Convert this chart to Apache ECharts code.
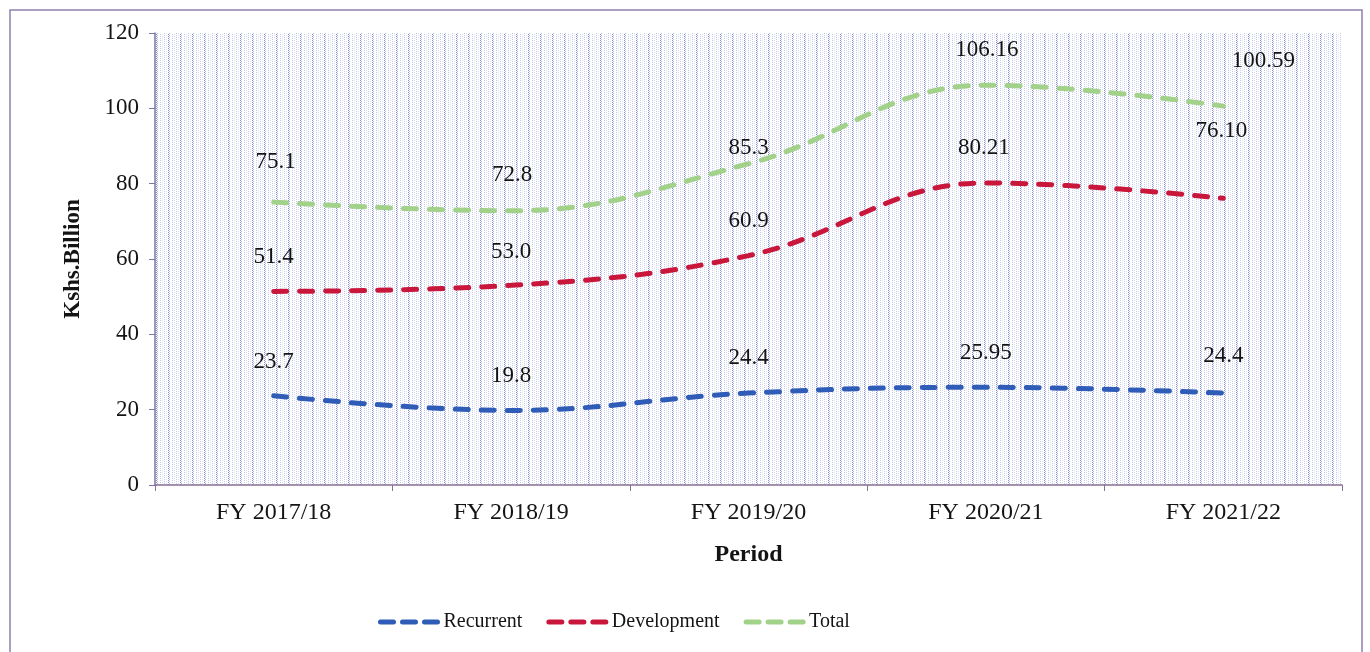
<!DOCTYPE html>
<html>
<head>
<meta charset="utf-8">
<title>Recurrent and Development Expenditure</title>
<script src="https://cdn.jsdelivr.net/npm/echarts@6/dist/echarts.min.js"></script>
<style>
    html, body {
        margin: 0;
        padding: 0;
        background: #fff;
    }
    #chart {
        width: 1370px;
        height: 652px;
    }
</style>
</head>
<body>
<div id="chart"></div>
<script>
    // data
    var periods = ['FY 2017/18', 'FY 2018/19', 'FY 2019/20', 'FY 2020/21', 'FY 2021/22'];
    var recurrent = [23.7, 19.8, 24.4, 25.95, 24.4];
    var development = [51.4, 53.0, 60.9, 80.21, 76.10];
    var total = [75.1, 72.8, 85.3, 106.16, 100.59];
    // how the labels read in the source (decimals kept as printed)
    var recurrentText = ['23.7', '19.8', '24.4', '25.95', '24.4'];
    var developmentText = ['51.4', '53.0', '60.9', '80.21', '76.10'];
    var totalText = ['75.1', '72.8', '85.3', '106.16', '100.59'];

    var serif = "'Liberation Serif', 'Times New Roman', serif";

    // label nudges (style only), [dx, dy] per point
    var recurrentNudge = [[0, -17], [0, -17], [0, -18], [0, -17], [0, -20]];
    var developmentNudge = [[0, -17], [0, -16], [0, -18], [-2, -18], [-2, -50]];
    var totalNudge = [[2, -23], [1, -19], [0, 1], [1, -18], [40, -28]];

    // dotted blue hatch like the excel pattern fill
    function makePattern() {
        var c = document.createElement('canvas');
        c.width = 12;
        c.height = 4;
        var ctx = c.getContext('2d');
        ctx.fillStyle = '#ffffff';
        ctx.fillRect(0, 0, 12, 4);
        for (var y = 0; y < 4; y += 2) {
            ctx.fillStyle = '#8390d3';
            ctx.fillRect(0, y, 1, 1);
            ctx.fillStyle = '#b3bae4';
            ctx.fillRect(1, y + 1, 1, 1);
            ctx.fillStyle = '#c3c9ea';
            ctx.fillRect(4, y, 1, 1);
            ctx.fillRect(8, y + 1, 1, 1);
            ctx.fillStyle = '#dfe2f4';
            ctx.fillRect(6, y, 1, 1);
            ctx.fillRect(10, y + 1, 1, 1);
        }
        return c;
    }

    function buildData(values, texts, nudge) {
        var out = [];
        for (var i = 0; i < values.length; i++) {
            out.push({
                value: values[i],
                label: {
                    offset: nudge[i],
                    formatter: texts[i]
                }
            });
        }
        return out;
    }

    function lineSeries(name, color, values, texts, nudge) {
        return {
            name: name,
            type: 'line',
            smooth: 0.4,
            symbol: 'circle',
            symbolSize: 1,
            itemStyle: {
                color: color
            },
            lineStyle: {
                color: color,
                width: 5,
                type: [13, 13],
                cap: 'round'
            },
            label: {
                show: true,
                position: 'top',
                distance: 5,
                color: '#141414',
                fontSize: 23,
                fontFamily: serif
            },
            emphasis: {
                disabled: true
            },
            data: buildData(values, texts, nudge)
        };
    }

    var dom = document.getElementById('chart');
    var myChart = echarts.init(dom);

    var option = {
        animation: false,
        backgroundColor: '#ffffff',
        textStyle: {
            fontFamily: serif
        },
        grid: {
            left: 155,
            right: 28,
            top: 33,
            bottom: 167,
            show: true,
            borderWidth: 0,
            backgroundColor: {
                image: makePattern(),
                repeat: 'repeat'
            }
        },
        legend: {
            left: 373,
            top: 607,
            itemWidth: 58,
            itemHeight: 14,
            itemGap: 24,
            itemStyle: {
                opacity: 0
            },
            lineStyle: {
                width: 5,
                type: [13, 9],
                cap: 'round'
            },
            textStyle: {
                fontFamily: serif,
                fontSize: 20,
                color: '#141414'
            },
            data: ['Recurrent', 'Development', 'Total']
        },
        xAxis: {
            type: 'category',
            data: periods,
            boundaryGap: true,
            name: 'Period',
            nameLocation: 'middle',
            nameGap: 58,
            nameTextStyle: {
                fontFamily: serif,
                fontSize: 24,
                fontWeight: 'bold',
                color: '#141414'
            },
            axisLine: {
                lineStyle: {
                    color: '#8a6f94',
                    width: 1.5
                }
            },
            axisTick: {
                show: true,
                length: 6,
                lineStyle: {
                    color: '#8a6f94'
                }
            },
            axisLabel: {
                margin: 16,
                fontFamily: serif,
                fontSize: 24,
                color: '#141414'
            }
        },
        yAxis: {
            type: 'value',
            min: 0,
            max: 120,
            interval: 20,
            name: 'Kshs.Billion',
            nameLocation: 'middle',
            nameGap: 70,
            nameRotate: 90,
            nameTextStyle: {
                fontFamily: serif,
                fontSize: 23,
                fontWeight: 'bold',
                color: '#141414'
            },
            axisLine: {
                show: true,
                lineStyle: {
                    color: '#7d74a0',
                    width: 1.5
                }
            },
            axisTick: {
                show: true,
                length: 6,
                lineStyle: {
                    color: '#7d74a0'
                }
            },
            splitLine: {
                show: false
            },
            axisLabel: {
                margin: 16,
                fontFamily: serif,
                fontSize: 23,
                color: '#141414'
            }
        },
        graphic: [
            {
                type: 'rect',
                silent: true,
                shape: {x: 10, y: 10, width: 1352, height: 700},
                style: {
                    fill: 'none',
                    stroke: '#8c80b0',
                    lineWidth: 1.5
                }
            }
        ],
        series: [
            lineSeries('Recurrent', '#2f5cb6', recurrent, recurrentText, recurrentNudge),
            lineSeries('Development', '#c9173c', development, developmentText, developmentNudge),
            lineSeries('Total', '#a2d18a', total, totalText, totalNudge)
        ]
    };

    if (option && typeof option === "object") {
        myChart.setOption(option, true);
    }
</script>
</body>
</html>
